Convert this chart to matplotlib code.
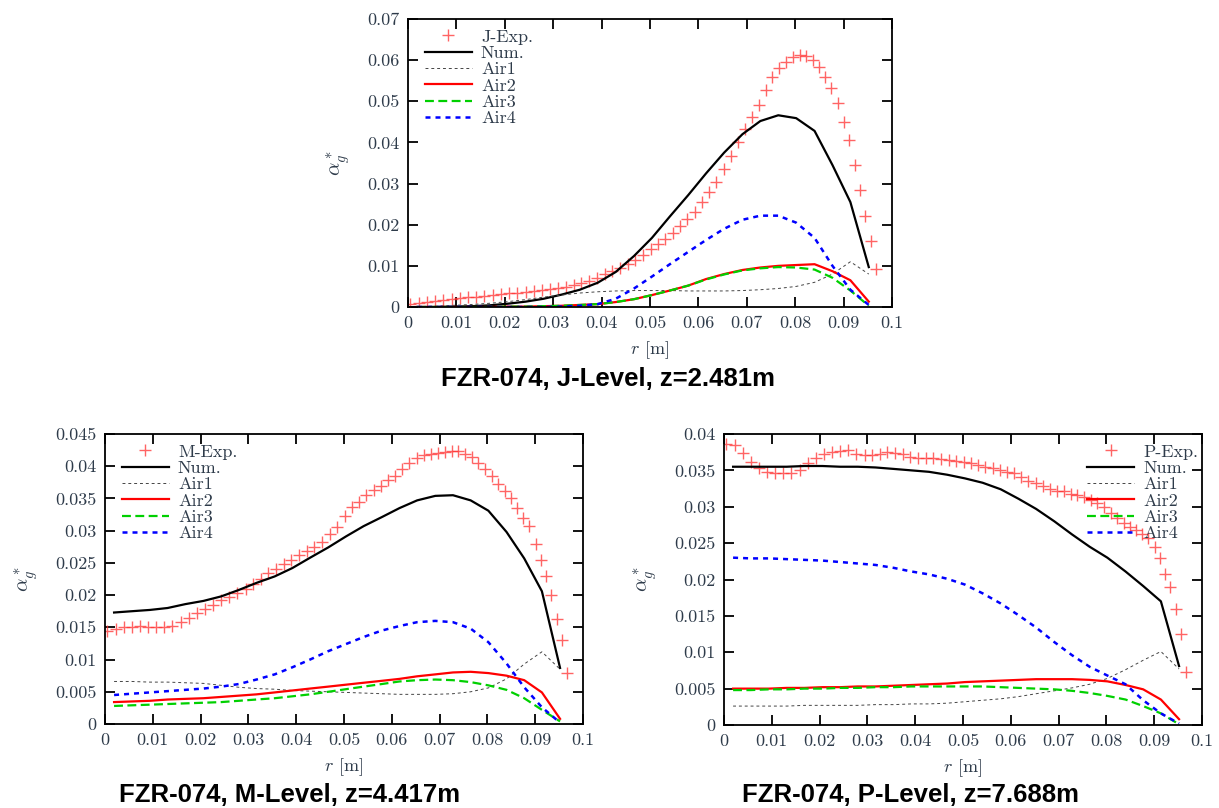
import matplotlib
matplotlib.use("Agg")
import matplotlib.pyplot as plt
from matplotlib.ticker import MultipleLocator, FuncFormatter

plt.rcParams["font.family"] = "cmr10"
plt.rcParams["mathtext.fontset"] = "cm"
plt.rcParams["axes.formatter.use_mathtext"] = True

# radial positions of the wire-mesh measurement points [m]
r_exp = [0.0005, 0.0022, 0.0039, 0.0056, 0.0073, 0.0090, 0.0107, 0.0124, 0.0141, 0.0158,
         0.0175, 0.0192, 0.0209, 0.0226, 0.0243, 0.0260, 0.0277, 0.0294, 0.0310, 0.0326,
         0.0342, 0.0358, 0.0374, 0.0390, 0.0406, 0.0422, 0.0438, 0.0454, 0.0470, 0.0486,
         0.0502, 0.0517, 0.0532, 0.0547, 0.0562, 0.0577, 0.0592, 0.0607, 0.0622, 0.0637,
         0.0652, 0.0667, 0.0682, 0.0697, 0.0711, 0.0725, 0.0739, 0.0753, 0.0767, 0.0781,
         0.0795, 0.0809, 0.0823, 0.0836, 0.0849, 0.0862, 0.0875, 0.0888, 0.0901, 0.0912,
         0.0923, 0.0934, 0.0945, 0.0956, 0.0967]

# radial positions of the numerical cell centres [m]
r_num = [0.0019, 0.0056, 0.0094, 0.0131, 0.0168, 0.0206, 0.0243, 0.0280, 0.0317, 0.0355,
         0.0392, 0.0429, 0.0467, 0.0504, 0.0541, 0.0579, 0.0616, 0.0653, 0.0691, 0.0728,
         0.0765, 0.0802, 0.0840, 0.0877, 0.0914, 0.0952]

# ---- J-Level, z=2.481m ----
j_exp = [0.0007, 0.0010, 0.0013, 0.0015, 0.0017, 0.0019, 0.0022, 0.0024, 0.0025, 0.0027,
         0.0029, 0.0031, 0.0033, 0.0035, 0.0037, 0.0039, 0.0041, 0.0044, 0.0046, 0.0049,
         0.0053, 0.0058, 0.0064, 0.0071, 0.0080, 0.0088, 0.0096, 0.0104, 0.0115, 0.0127,
         0.0140, 0.0152, 0.0166, 0.0180, 0.0196, 0.0213, 0.0232, 0.0255, 0.0280, 0.0305,
         0.0335, 0.0368, 0.0400, 0.0432, 0.0462, 0.0492, 0.0528, 0.0558, 0.0580, 0.0596,
         0.0607, 0.0613, 0.0610, 0.0600, 0.0583, 0.0558, 0.0533, 0.0495, 0.0450, 0.0405,
         0.0345, 0.0285, 0.0220, 0.0160, 0.0093]
j_num = [0.0000, 0.0000, 0.0001, 0.0002, 0.0004, 0.0008, 0.0013, 0.0020, 0.0030, 0.0042,
         0.0059, 0.0085, 0.0124, 0.0168, 0.0220, 0.0272, 0.0325, 0.0375, 0.0420, 0.0452,
         0.0466, 0.0459, 0.0428, 0.0345, 0.0255, 0.0097]
j_air1 = [0.0001, 0.0002, 0.0004, 0.0006, 0.0009, 0.0013, 0.0018, 0.0024, 0.0029, 0.0034,
          0.0037, 0.0039, 0.0040, 0.0040, 0.0040, 0.0039, 0.0039, 0.0039, 0.0040, 0.0042,
          0.0045, 0.0050, 0.0060, 0.0080, 0.0110, 0.0080]
j_air2 = [0.0000, 0.0000, 0.0000, 0.0000, 0.0000, 0.0001, 0.0001, 0.0002, 0.0003, 0.0005,
          0.0007, 0.0012, 0.0019, 0.0029, 0.0040, 0.0052, 0.0068, 0.0080, 0.0090, 0.0096,
          0.0100, 0.0102, 0.0104, 0.0087, 0.0065, 0.0013]
j_air3 = [0.0000, 0.0000, 0.0000, 0.0000, 0.0000, 0.0001, 0.0001, 0.0002, 0.0003, 0.0005,
          0.0007, 0.0012, 0.0019, 0.0029, 0.0040, 0.0052, 0.0067, 0.0079, 0.0089, 0.0094,
          0.0097, 0.0096, 0.0091, 0.0071, 0.0040, 0.0003]
j_air4 = [0.0000, 0.0000, 0.0000, 0.0000, 0.0000, 0.0000, 0.0000, 0.0000, 0.0001, 0.0003,
          0.0007, 0.0020, 0.0045, 0.0074, 0.0104, 0.0134, 0.0163, 0.0190, 0.0212, 0.0222,
          0.0222, 0.0205, 0.0168, 0.0100, 0.0042, 0.0005]

# ---- M-Level, z=4.417m ----
m_exp = [0.0145, 0.0147, 0.0150, 0.0151, 0.0152, 0.0151, 0.0150, 0.0150, 0.0152, 0.0158,
         0.0165, 0.0172, 0.0178, 0.0185, 0.0192, 0.0197, 0.0203, 0.0209, 0.0217, 0.0225,
         0.0234, 0.0241, 0.0248, 0.0255, 0.0262, 0.0268, 0.0275, 0.0283, 0.0295, 0.0305,
         0.0322, 0.0337, 0.0345, 0.0355, 0.0363, 0.0370, 0.0378, 0.0385, 0.0395, 0.0405,
         0.0412, 0.0417, 0.0419, 0.0421, 0.0422, 0.0423, 0.0423, 0.0419, 0.0414, 0.0405,
         0.0396, 0.0385, 0.0372, 0.0362, 0.0350, 0.0335, 0.0320, 0.0308, 0.0280, 0.0255,
         0.0230, 0.0200, 0.0163, 0.0130, 0.0079]
m_num = [0.0173, 0.0175, 0.0177, 0.0180, 0.0186, 0.0191, 0.0198, 0.0208, 0.0219, 0.0229,
         0.0242, 0.0258, 0.0274, 0.0291, 0.0307, 0.0321, 0.0335, 0.0347, 0.0354, 0.0355,
         0.0347, 0.0331, 0.0298, 0.0257, 0.0206, 0.0087]
m_air1 = [0.0066, 0.0066, 0.0065, 0.0065, 0.0064, 0.0063, 0.0060, 0.0057, 0.0055, 0.0054,
          0.0052, 0.0051, 0.0050, 0.0049, 0.0048, 0.0047, 0.0046, 0.0046, 0.0046, 0.0047,
          0.0050, 0.0056, 0.0070, 0.0093, 0.0112, 0.0085]
m_air2 = [0.0034, 0.0035, 0.0036, 0.0038, 0.0039, 0.0040, 0.0042, 0.0044, 0.0046, 0.0049,
          0.0052, 0.0055, 0.0058, 0.0061, 0.0064, 0.0067, 0.0070, 0.0074, 0.0077, 0.0080,
          0.0081, 0.0079, 0.0075, 0.0068, 0.0049, 0.0008]
m_air3 = [0.0028, 0.0029, 0.0030, 0.0031, 0.0032, 0.0033, 0.0034, 0.0036, 0.0038, 0.0040,
          0.0043, 0.0046, 0.0050, 0.0054, 0.0058, 0.0062, 0.0066, 0.0068, 0.0069, 0.0068,
          0.0065, 0.0060, 0.0053, 0.0040, 0.0022, 0.0004]
m_air4 = [0.0045, 0.0047, 0.0049, 0.0051, 0.0053, 0.0055, 0.0058, 0.0062, 0.0069, 0.0077,
          0.0088, 0.0100, 0.0113, 0.0124, 0.0135, 0.0145, 0.0152, 0.0158, 0.0160, 0.0158,
          0.0148, 0.0127, 0.0094, 0.0057, 0.0026, 0.0002]

# ---- P-Level, z=7.688m ----
p_exp = [0.0386, 0.0385, 0.0374, 0.0362, 0.0353, 0.0348, 0.0347, 0.0346, 0.0346, 0.0350,
         0.0360, 0.0367, 0.0373, 0.0375, 0.0377, 0.0378, 0.0373, 0.0371, 0.0371, 0.0373,
         0.0375, 0.0374, 0.0372, 0.0369, 0.0367, 0.0367, 0.0367, 0.0365, 0.0364, 0.0363,
         0.0362, 0.0360, 0.0357, 0.0355, 0.0353, 0.0351, 0.0348, 0.0346, 0.0341, 0.0336,
         0.0333, 0.0328, 0.0324, 0.0322, 0.0321, 0.0318, 0.0316, 0.0314, 0.0309, 0.0305,
         0.0299, 0.0291, 0.0284, 0.0277, 0.0272, 0.0268, 0.0263, 0.0257, 0.0245, 0.0230,
         0.0207, 0.0190, 0.0159, 0.0125, 0.0073]
p_num = [0.0355, 0.0355, 0.0355, 0.0355, 0.0356, 0.0356, 0.0355, 0.0355, 0.0354, 0.0352,
         0.0350, 0.0348, 0.0344, 0.0339, 0.0333, 0.0324, 0.0311, 0.0297, 0.0280, 0.0262,
         0.0245, 0.0230, 0.0211, 0.0191, 0.0170, 0.0081]
p_air1 = [0.0026, 0.0026, 0.0026, 0.0026, 0.0027, 0.0027, 0.0027, 0.0027, 0.0028, 0.0028,
          0.0029, 0.0029, 0.0030, 0.0032, 0.0034, 0.0036, 0.0039, 0.0043, 0.0047, 0.0051,
          0.0056, 0.0064, 0.0076, 0.0089, 0.0101, 0.0077]
p_air2 = [0.0050, 0.0050, 0.0050, 0.0051, 0.0051, 0.0052, 0.0052, 0.0053, 0.0053, 0.0054,
          0.0055, 0.0056, 0.0057, 0.0059, 0.0060, 0.0061, 0.0062, 0.0063, 0.0063, 0.0063,
          0.0062, 0.0060, 0.0055, 0.0049, 0.0035, 0.0008]
p_air3 = [0.0048, 0.0048, 0.0049, 0.0049, 0.0050, 0.0050, 0.0051, 0.0051, 0.0052, 0.0052,
          0.0053, 0.0053, 0.0053, 0.0053, 0.0053, 0.0052, 0.0051, 0.0050, 0.0049, 0.0047,
          0.0044, 0.0040, 0.0035, 0.0026, 0.0016, 0.0001]
p_air4 = [0.0230, 0.0229, 0.0229, 0.0228, 0.0227, 0.0226, 0.0224, 0.0222, 0.0220, 0.0216,
          0.0211, 0.0207, 0.0201, 0.0193, 0.0181, 0.0167, 0.0151, 0.0134, 0.0114, 0.0096,
          0.0080, 0.0068, 0.0056, 0.0034, 0.0016, 0.0002]

TXT = "#2e3b4a"
FS = 13


def fmt(v, pos):
    return "%g" % round(v, 4)


def draw_panel(ax, exp_label, exp, num, air1, air2, air3, air4, ytop, ystep, legend_right):
    ax.plot(r_exp, exp, linestyle="none", marker="+", markersize=8, mew=1.0,
            color="#ff3030", alpha=0.75, label=exp_label)
    ax.plot(r_num, num, color="black", lw=1.6, label="Num.")
    ax.plot(r_num, air1, color="#444444", lw=0.7, dashes=(3, 3), label="Air1")
    ax.plot(r_num, air2, color="#ff0000", lw=1.6, label="Air2")
    ax.plot(r_num, air3, color="#00d000", lw=1.6, dashes=(4, 2), label="Air3")
    ax.plot(r_num, air4, color="#0000ff", lw=1.8, dashes=(2, 2), label="Air4")

    ax.set_xlim(0, 0.1)
    ax.set_ylim(0, ytop)
    ax.xaxis.set_major_locator(MultipleLocator(0.01))
    ax.yaxis.set_major_locator(MultipleLocator(ystep))
    ax.xaxis.set_major_formatter(FuncFormatter(fmt))
    ax.yaxis.set_major_formatter(FuncFormatter(fmt))
    ax.tick_params(direction="in", length=7, width=1.3, top=True, right=True,
                   labelsize=FS, labelcolor=TXT, pad=6)
    for s in ax.spines.values():
        s.set_linewidth(1.3)

    ax.set_xlabel(r"$r$ [m]", fontsize=FS, color=TXT, labelpad=6)
    ax.set_ylabel(r"$\alpha_g^*$", fontsize=FS + 2, color=TXT, labelpad=11)

    w = ax.get_position().width * 1219
    h = ax.get_position().height * 808
    if legend_right:
        loc, anchor = "upper right", (1 - 4 / w, 1 - 10 / h)
    else:
        loc, anchor = "upper left", (17 / w, 1 - 10 / h)
    leg = ax.legend(loc=loc, bbox_to_anchor=anchor, frameon=False, fontsize=FS,
                    borderpad=0, borderaxespad=0, handlelength=2.6, handletextpad=0.5,
                    labelspacing=0.04, markerfirst=True)
    for t in leg.get_texts():
        t.set_color(TXT)


fig = plt.figure(figsize=(12.19, 8.08), dpi=100)

ax_j = fig.add_axes([408 / 1219, 1 - 307 / 808, 484 / 1219, 288 / 808])
draw_panel(ax_j, "J-Exp.", j_exp, j_num, j_air1, j_air2, j_air3, j_air4, 0.07, 0.01, False)

ax_m = fig.add_axes([105 / 1219, 1 - 724 / 808, 478 / 1219, 290 / 808])
draw_panel(ax_m, "M-Exp.", m_exp, m_num, m_air1, m_air2, m_air3, m_air4, 0.045, 0.005, False)

ax_p = fig.add_axes([724 / 1219, 1 - 725 / 808, 478 / 1219, 291 / 808])
draw_panel(ax_p, "P-Exp.", p_exp, p_num, p_air1, p_air2, p_air3, p_air4, 0.04, 0.005, True)

title_font = dict(family="Liberation Sans", fontweight="bold", fontsize=18.5,
                  ha="center", va="center")
fig.text(608 / 1219, 1 - 379 / 808, "FZR-074, J-Level, z=2.481m", **title_font)
fig.text(290 / 1219, 1 - 795 / 808, "FZR-074, M-Level, z=4.417m", **title_font)
fig.text(911 / 1219, 1 - 795 / 808, "FZR-074, P-Level, z=7.688m", **title_font)

fig.savefig("out.png", dpi=100, facecolor="white")
